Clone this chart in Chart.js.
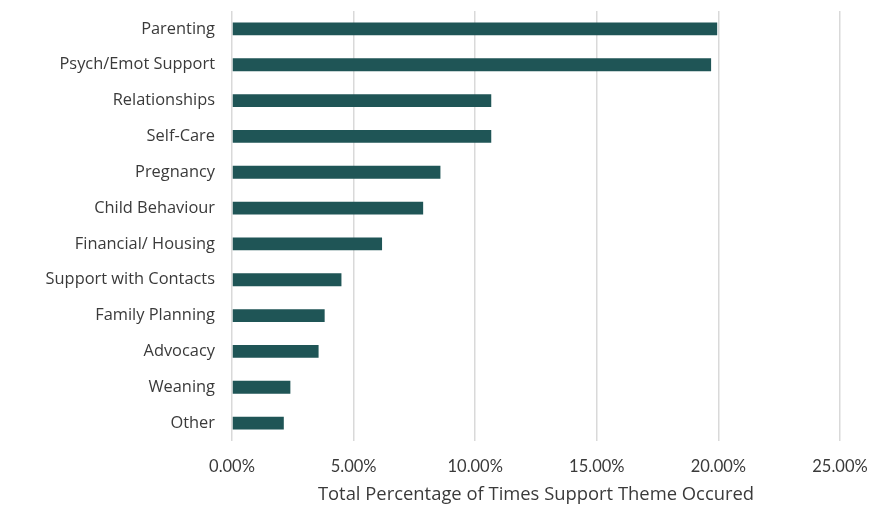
<!DOCTYPE html>
<html lang="en">
<head>
  <meta charset="UTF-8">
  <title>Support Themes</title>
  <script src="https://cdn.jsdelivr.net/npm/chart.js"></script>
  <style>
    html, body {
      margin: 0;
      padding: 0;
      background: #fff;
    }
    .chart-box {
      width: 876px;
      height: 506px;
    }
  </style>
</head>
<body>
<div class="chart-box"><canvas id="themeChart"></canvas></div>

<script>
  // percentages
  const themes = ['Parenting', 'Psych/Emot Support', 'Relationships', 'Self-Care', 'Pregnancy',
    'Child Behaviour', 'Financial/ Housing', 'Support with Contacts', 'Family Planning',
    'Advocacy', 'Weaning', 'Other'];
  const percentages = [19.95, 19.7, 10.66, 10.66, 8.57, 7.86, 6.17, 4.5, 3.81, 3.56, 2.4, 2.13];
  const xTicks = [0, 5, 10, 15, 20, 25];
  const axisTitle = 'Total Percentage of Times Support Theme Occured';

  const textColor = '#3a3a3a';

  new Chart(document.getElementById('themeChart'), {
    type: 'bar',
    data: {
      labels: themes,
      datasets: [{
        data: percentages,
        backgroundColor: '#1f5556',
        borderColor: '#1f5556',
        borderWidth: 0,
        categoryPercentage: 1,
        barPercentage: 0.36
      }]
    },
    options: {
      indexAxis: 'y',
      responsive: true,
      maintainAspectRatio: false,
      animation: false,
      layout: { padding: { top: 11, right: 36, left: 0, bottom: 0 } },
      plugins: {
        legend: { display: false },
        tooltip: { enabled: false }
      },
      scales: {
        x: {
          min: 0,
          max: 25,
          afterBuildTicks: scale => { scale.ticks = xTicks.map(v => ({ value: v })); },
          afterFit: scale => {
            scale.height = 65;
            scale.paddingLeft = 0;
            scale.paddingRight = 0;
          },
          grid: { color: '#d9d9d9', lineWidth: 1.5, drawTicks: false },
          border: { display: false },
          ticks: {
            padding: 16,
            color: textColor,
            font: { family: 'Lato', size: 16.5 },
            callback: v => v.toFixed(2) + '%'
          },
          title: {
            display: true,
            text: axisTitle,
            color: textColor,
            font: { family: 'Open Sans', size: 18.4 },
            padding: { top: 10, bottom: 0 }
          }
        },
        y: {
          afterFit: scale => {
            scale.width = 232;
            scale.paddingTop = 0;
            scale.paddingBottom = 0;
          },
          grid: { display: false },
          border: { display: false },
          ticks: {
            padding: 9,
            color: textColor,
            font: { family: 'Open Sans', size: 16.4 }
          }
        }
      }
    }
  });
</script>
</body>
</html>
